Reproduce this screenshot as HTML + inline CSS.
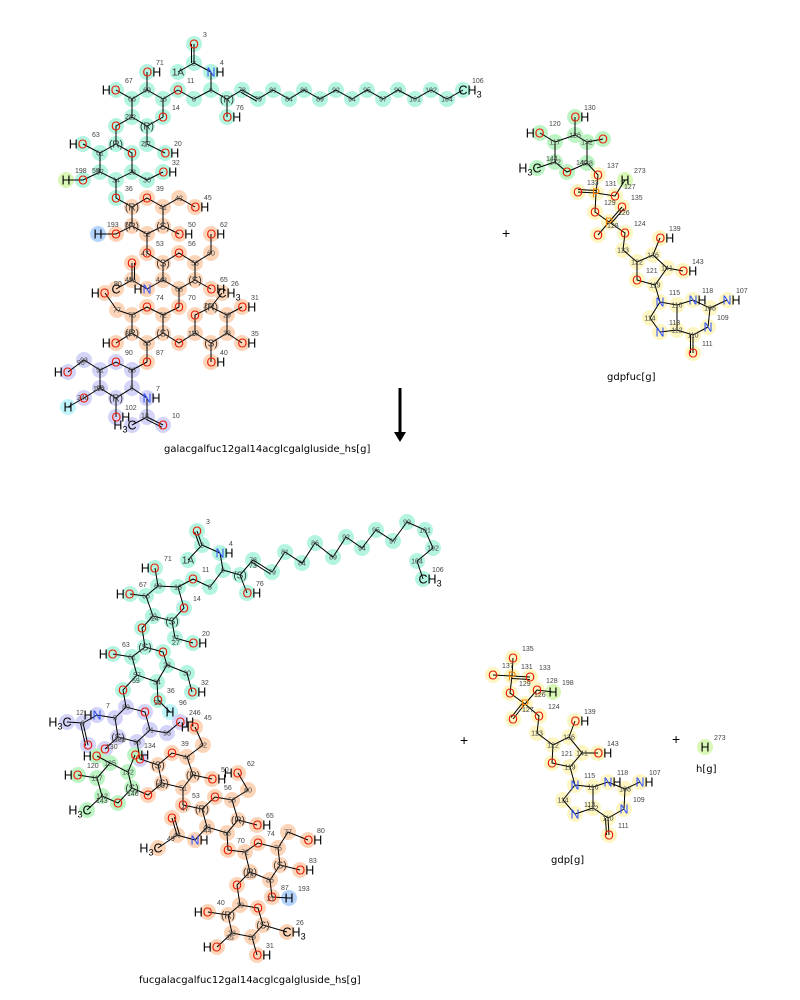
<!DOCTYPE html>
<html><head><meta charset="utf-8"><style>
html,body{margin:0;padding:0;background:#fff;}
svg{display:block;font-family:"Liberation Sans",sans-serif;}
.nm{font-family:"DejaVu Sans","Liberation Sans",sans-serif;font-size:10px;fill:#000;}
</style></head><body>
<svg id="s" width="800" height="1000" viewBox="0 0 800 1000" xmlns="http://www.w3.org/2000/svg">
<g id="circ"></g><g id="bond" stroke="#000" stroke-width="1" fill="none"></g><g id="lab"></g>
<text class="nm" x="164" y="452">galacgalfuc12gal14acglcgalgluside_hs[g]</text>
<text class="nm" x="607" y="380">gdpfuc[g]</text>
<text class="nm" x="139" y="983">fucgalacgalfuc12gal14acglcgalgluside_hs[g]</text>
<text class="nm" x="551" y="863">gdp[g]</text>
<text class="nm" x="696" y="772">h[g]</text>
<text x="502" y="238" font-size="14">+</text>
<text x="460" y="745" font-size="14">+</text>
<text x="672" y="744" font-size="14">+</text>
<line x1="400" y1="388" x2="400" y2="432" stroke="#000" stroke-width="3"/>
<polygon points="394,432 406,432 400,442" fill="#000"/>
</svg>
<script>
var C={g:"#b4f5e1",o:"#fcd5b9",p:"#d4d4f9",y:"#fdf6c3",f:"#bdf4c4",b:"#b4d4fc",c:"#bff4fb",l:"#d9f7b6"};
var atoms=
"194 44 g O 3;194 63 g - 2;178 72 g 1A -;211 72 g NH 4;178 90 g O 11;194 99 g - 8;211 90 g - 6;227 99 g (R) -;227 117 g OH 76;242 90 g - 78;258 99 g - 79;273 90 g - 81;289 99 g - 84;304 90 g - 86;320 99 g - 89;336 90 g - 92;352 99 g - 94;367 90 g - 95;383 99 g - 97;398 90 g - 99;415 99 g - 101;431 90 g - 102;447 99 g - 104;463 90 g CH3 106;163 99 g - 13;147 90 g - 69;147 72 g OH 71;132 99 g - 66;116 90 g HO 67;132 117 g - 22;163 117 g O 14;147 126 g (R) -;147 144 g - 17;165 153 g OH 20;116 126 g O 24;116 144 g (R) -;100 153 g - 61;83 144 g HO 63;132 153 g O 27;100 172 g - 57;83 180 g O 59;66 180 l H 198;132 172 g - 28;147 180 g - 30;163 172 g OH 32;116 180 g - 34;116 198 g O 36;"+
"132 207 o (R) -;147 198 o O 39;163 207 o - 41;179 198 o - 42;195 207 o OH 45;163 226 o (S) -;179 234 o OH 50;147 234 o - 52;132 226 o (R) -;116 234 o O 55;98 234 b H 193;147 253 o O 53;132 263 o O 47;163 263 o (S) -;179 253 o O 56;195 263 o - 58;211 253 o - 60;211 234 o OH 62;163 280 o - 43;147 289 o HN 44;195 280 o (S) -;211 289 o OH 65;179 289 o - 68;132 280 o - 46;116 289 o C 49;105 293 o HO 80;222 293 o CH3 26;179 307 o O 70;147 307 o O 74;163 315 o - 72;132 315 o - 75;117 310 o - 77;132 333 o (R) -;116 343 o HO 83;147 343 o - 85;163 333 o (S) -;179 343 o O 18;195 333 o - 19;195 315 o O 21;211 307 o (R) -;227 315 o - 29;242 307 o OH 31;227 333 o - 33;242 343 o OH 35;211 343 o (S) -;211 362 o OH 40;147 362 o O 87;"+
"132 370 p - 88;116 362 p O 90;100 370 p - 91;84 360 p - 93;68 372 p HO 96;100 388 p - 95;84 398 p O 100;68 407 c H 246;116 398 p (R) -;116 417 p OH 102;132 388 p - 5;147 398 p NH 7;147 417 p - 9;163 425 p O 10;132 425 p H3C 12;"+
"197 531 g O 3;202 545 g - 2;188 560 g 1A -;220 553 g NH 4;223 570 g - 6;193 579 g O 11;210 587 g - 8;240 575 g (S) 73;247 593 g OH 76;253 560 g - 78;272 572 g - 79;285 552 g - 81;302 563 g - 84;315 543 g - 86;333 557 g - 89;346 537 g - 92;362 548 g - 94;376 530 g - 95;393 541 g - 97;407 522 g - 99;425 530 g - 101;433 548 g - 102;417 561 g - 104;423 579 g CH3 106;178 587 g - 13;158 586 g - 69;155 568 g HO 71;146 596 g - 66;130 594 g HO 67;153 616 g - 22;172 621 g (S) -;184 608 g O 14;175 638 g - 17;193 643 g OH 20;142 628 g O 24;145 647 g (S) -;163 652 g O 27;167 665 g - 28;187 673 g - 30;192 692 g OH 32;157 682 g - 34;137 675 g - 57;132 657 g - 61;113 654 g HO 63;123 690 g O 59;158 700 g O 36;170 712 c H 96;"+
"126 707 p - 89;145 712 p O 90;150 730 p - 91;137 742 p - 98;118 737 p (S) -;115 718 p - 5;97 715 p HN 7;83 723 p - 9;67 722 p H3C 12;88 745 p O -;105 749 p O 105;167 733 p - 93;180 722 p OH 246;140 759 p O -;"+
"110 763 f - 125;97 756 f HO 130;97 778 f - 117;78 775 f HO 120;102 796 f - 142;87 810 f H3C 143;118 803 f O 140;132 788 f (S) -;128 772 f - 132;135 755 f OH 134;"+
"148 795 o O 55;158 765 o (S) -;172 753 o O 39;187 757 o - 41;203 745 o - 42;195 727 o HO 45;193 775 o (R) -;212 779 o OH 50;162 783 o (S) -;183 788 o - 51;183 805 o O 53;202 809 o (R) -;215 797 o O 56;232 800 o - 58;248 790 o - 60;238 773 o HO 62;238 820 o (R) -;257 825 o OH 65;207 827 o - 43;195 840 o NH 44;177 835 o - 46;172 818 o O 47;158 848 o H3C 49;227 833 o - 68;228 850 o O 70;245 852 o - 72;258 843 o O 74;278 848 o - 75;288 832 o - 77;308 840 o OH 80;280 865 o (S) -;300 870 o OH 83;270 880 o - 85;272 897 o O 87;289 898 b H 193;250 872 o (R) -;237 885 o O 18;240 905 o - 19;258 908 o O 21;263 925 o (S) -;287 932 o CH3 26;252 937 o - 29;257 955 o OH 31;232 933 o - 33;217 947 o HO 35;228 915 o (R) -;208 912 o HO 40;"+
"575 135 f - 126;587 142 f - 132;587 163 f - 138;567 172 f O 140;555 162 f - 142;555 142 f - 117;575 117 f OH 130;540 133 f HO 120;603 139 f O -;537 168 f H3C 144;598 175 y O 137;625 180 l H 273;596 193 y P 131;578 192 y O 133;615 196 y O 127;622 207 y O 135;595 212 y O 129;609 222 y P 126;598 235 y O 128;625 233 y O 124;623 250 y - 123;637 262 y - 122;653 255 y - 136;660 238 y OH 139;667 268 y - 141;683 271 y OH 143;655 285 y - 119;637 280 y O 121;660 302 y N 115;677 305 y - 116;693 300 y NH 118;710 308 y - 108;727 300 y NH 107;708 327 y N 109;693 335 y - 110;693 353 y O 111;677 330 y - 112;660 332 y N 113;650 318 y - 114;"+
"513 658 y O 135;512 676 y P 131;493 675 y O 137;530 677 y O 133;537 690 y O 128;553 692 l H 198;510 693 y O 129;525 704 y P 126;513 719 y O 127;539 716 y O 124;537 733 y - 123;553 745 y - 122;569 737 y - 136;575 721 y OH 139;582 753 y - 141;598 753 y OH 143;570 767 y - 119;552 763 y O 121;575 785 y N 115;593 787 y - 116;608 782 y NH 118;625 789 y - 108;640 782 y NH 107;624 809 y N 109;608 818 y - 110;609 835 y O 111;593 808 y - 112;575 814 y N 113;563 800 y - 114;705 747 l H 273";
var bonds=[
"194,44 194,63","178,72 194,63 211,72","211,72 211,90","178,90 194,99 211,90 227,99 242,90 258,99 273,90 289,99 304,90 320,99 336,90 352,99 367,90 383,99 398,90 415,99 431,90 447,99 463,90","227,99 227,117","163,99 178,90",
"163,99 147,90 132,99 132,117 147,126 163,117 163,99","147,90 147,72","132,99 116,90","147,126 147,144 165,153","132,117 116,126 116,144",
"116,144 100,153 100,172 116,180 132,172 132,153 116,144","100,153 83,144","100,172 83,180 66,180","132,172 147,180 163,172","116,180 116,198 132,207",
"132,207 147,198 163,207 163,226 147,234 132,226 132,207","163,207 179,198 195,207","163,226 179,234","132,226 116,234 98,234","147,234 147,253 163,263",
"163,263 179,253 195,263 195,280 179,289 163,280 163,263","195,263 211,253 211,234","195,280 211,289","163,280 147,289","179,289 179,307","147,289 132,280","132,280 132,263","132,280 116,289",
"163,315 147,307 132,315 132,333 147,343 163,333 163,315","179,307 163,315","132,315 117,310 105,293","132,333 116,343","147,343 147,362","163,333 179,343 195,333",
"195,333 195,315 211,307 227,315 227,333 211,343 195,333","211,307 222,293","227,315 242,307","227,333 242,343","211,343 211,362",
"147,362 132,370","132,370 116,362 100,370 100,388 116,398 132,388 132,370","100,370 84,360 68,372","100,388 84,398 68,407","116,398 116,417","132,388 147,398 147,417","147,417 163,425","147,417 132,425",
"197,531 202,545","188,560 202,545 220,553","220,553 223,570","193,579 210,587 223,570 240,575","240,575 253,560 272,572 285,552 302,563 315,543 333,557 346,537 362,548 376,530 393,541 407,522 425,530 433,548 417,561 423,579","240,575 247,593","178,587 193,579",
"178,587 158,586 146,596 153,616 172,621 184,608 178,587","158,586 155,568","146,596 130,594","172,621 175,638 193,643","153,616 142,628 145,647",
"145,647 163,652 167,665 157,682 137,675 132,657 145,647","132,657 113,654","167,665 187,673 192,692","157,682 158,700 170,712","137,675 123,690 126,707",
"126,707 145,712 150,730 137,742 118,737 115,718 126,707","115,718 97,715 83,723","83,723 67,722","83,723 88,745","118,737 105,749","150,730 167,733 180,722","137,742 140,759 158,765",
"110,763 97,778 102,796 118,803 132,788 128,772 110,763","110,763 97,756","97,778 78,775","102,796 87,810","128,772 135,755","132,788 148,795 162,783",
"158,765 172,753 187,757 193,775 183,788 162,783 158,765","187,757 203,745 195,727","193,775 212,779","183,788 183,805 202,809",
"202,809 215,797 232,800 238,820 227,833 207,827 202,809","232,800 248,790 238,773","238,820 257,825","207,827 195,840 177,835","177,835 172,818","177,835 158,848","227,833 228,850 245,852",
"245,852 258,843 278,848 280,865 270,880 250,872 245,852","278,848 288,832 308,840","280,865 300,870","270,880 272,897 289,898","250,872 237,885 240,905",
"240,905 258,908 263,925 252,937 232,933 228,915 240,905","263,925 287,932","252,937 257,955","232,933 217,947","228,915 208,912",
"575,135 587,142 587,163 567,172 555,162 555,142 575,135","575,135 575,117","555,142 540,133","587,142 603,139","555,162 537,168","587,163 598,175 596,193","596,193 578,192","596,193 615,196 625,180","596,193 595,212 609,222","609,222 622,207","609,222 598,235","609,222 625,233 623,250 637,262",
"637,262 653,255 667,268 655,285 637,280 637,262","653,255 660,238","667,268 683,271","655,285 660,302","660,302 677,305 677,330 660,332 650,318 660,302","677,305 693,300 710,308 708,327 693,335 677,330","710,308 727,300","693,335 693,353",
"513,658 512,676","493,675 512,676","512,676 530,677","512,676 510,693 525,704","525,704 537,690 553,692","525,704 513,719","525,704 539,716 537,733 553,745",
"553,745 569,737 582,753 570,767 552,763 553,745","569,737 575,721","582,753 598,753","570,767 575,785","575,785 593,787 593,808 575,814 563,800 575,785","593,787 608,782 625,789 624,809 608,818 593,808","625,789 640,782","608,818 609,835"];
var dbl=[[194,44,194,63],[242,90,258,99],[197,531,202,545],[253,560,272,572],[596,193,578,192],[609,222,622,207],[512,676,530,677],[525,704,513,719],[147,417,163,425],[83,723,88,745],[132,280,132,263],[177,835,172,818],[693,335,693,353],[608,818,609,835]];
var NS="http://www.w3.org/2000/svg";
function el(t,a,p){var e=document.createElementNS(NS,t);for(var k in a)e.setAttribute(k,a[k]);p.appendChild(e);return e;}
var gc=document.getElementById("circ"),gb=document.getElementById("bond"),gl=document.getElementById("lab");
bonds.forEach(function(b){el("polyline",{points:b},gb);});
dbl.forEach(function(d){var dx=d[2]-d[0],dy=d[3]-d[1],L=Math.hypot(dx,dy),nx=-dy/L*2.5,ny=dx/L*2.5;el("line",{x1:d[0]+nx,y1:d[1]+ny,x2:d[2]+nx,y2:d[3]+ny},gb);});
function col(ch){return ch=="O"?"#e8200a":ch=="N"?"#3050f8":ch=="P"?"#f08000":"#000";}
atoms.split(";").forEach(function(s){
 var p=s.trim().split(" ");var x=+p[0],y=+p[1],c=p[2],lb=p[3],n=p[4];
 el("circle",{cx:x,cy:y,r:8,fill:C[c]},gc);
 if(lb=="-"){ if(n&&n!="-"){var t=el("text",{x:x,y:y+2.5,"font-size":"7","text-anchor":"middle",fill:"#444"},gl);t.textContent=n;} return;}
 if(lb[0]=="("||lb=="1A"){var t=el("text",{x:x,y:y+3.5,"font-size":"10","text-anchor":"middle",fill:"#333"},gl);t.textContent=lb;}
 else{
  var tx=x,anc="middle";
  if(lb.length>1&&lb[0]=="H"){anc="end";tx=x+4.5;}
  else if(lb.length>1){anc="start";tx=x-4.5;}
  var t=el("text",{x:tx,y:y+4.5,"font-size":"12.5","text-anchor":anc},gl);
  for(var i=0;i<lb.length;i++){var ch=lb[i];var ts=el("tspan",{fill:col(ch)},t);
   if(ch=="3"){ts.setAttribute("font-size","9");ts.setAttribute("dy","3");ts.textContent=ch;if(i<lb.length-1){var nx=el("tspan",{dy:"-3"},t);nx.textContent="";}}
   else ts.textContent=ch;
   if(i>0&&lb[i-1]=="3"){ts.setAttribute("dy","-3");}}
 }
 if(n&&n!="-"){var t2=el("text",{x:x+9,y:y-7,"font-size":"7",fill:"#444"},gl);t2.textContent=n;}
});
</script>
</body></html>
